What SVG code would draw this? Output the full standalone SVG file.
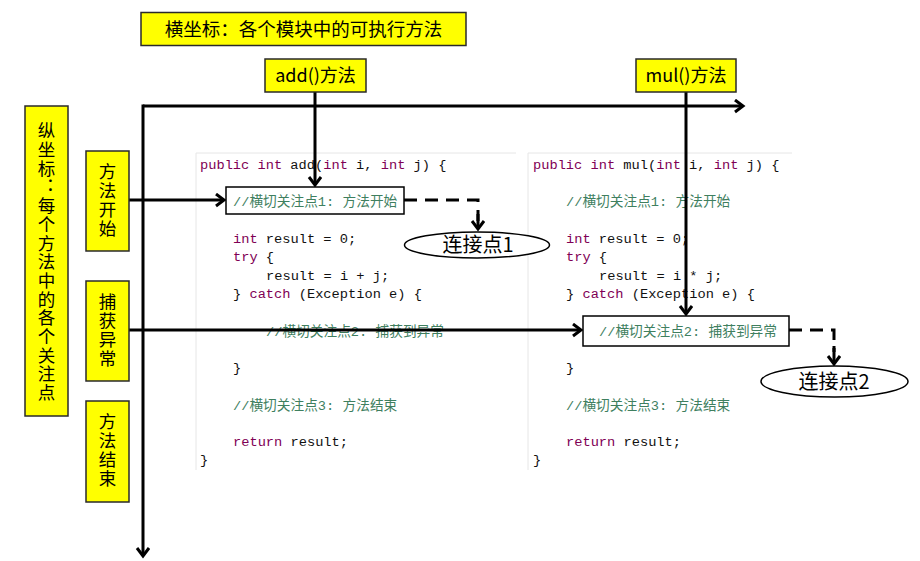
<svg xmlns="http://www.w3.org/2000/svg" width="920" height="561" viewBox="0 0 920 561">
<style>
.lbl{font-family:"Noto Sans CJK SC","Liberation Sans",sans-serif;fill:#000}
.vt{font-family:"Noto Sans CJK SC",sans-serif;fill:#000;writing-mode:vertical-rl;font-size:17.5px}
.yb{fill:#ffff00;stroke:#2a2a2a;stroke-width:1.5}
.code{font-family:"Liberation Mono","Noto Sans CJK SC",monospace;font-size:13.7px;fill:#111}
.kw{fill:#7f0055}
.cm{fill:#3f7f5f}
.ln{stroke:#000;stroke-width:3;fill:none}
.dash{stroke:#000;stroke-width:3;fill:none;stroke-dasharray:13 8}
.panel{stroke:#e6e6e6;stroke-width:1;fill:none}
</style>
<defs>
<marker id="ah" markerUnits="userSpaceOnUse" markerWidth="14" markerHeight="16" refX="10" refY="7" orient="auto">
<path d="M2,1 L10,7 L2,13" fill="none" stroke="#000" stroke-width="3"/>
</marker>
</defs>
<rect width="920" height="561" fill="#fff"/>

<g id="code-add">
<path class="panel" d="M196,470 V153 H516"/>
<text class="code" x="200" y="169"><tspan class="kw">public int</tspan> add(<tspan class="kw">int</tspan> i, <tspan class="kw">int</tspan> j) {</text>
<text class="code" x="233" y="243"><tspan class="kw">int</tspan> result = 0;</text>
<text class="code" x="233" y="261"><tspan class="kw">try</tspan> {</text>
<text class="code" x="266" y="280">result = i + j;</text>
<text class="code" x="233" y="298">} <tspan class="kw">catch</tspan> (Exception e) {</text>
<text class="code cm" x="266" y="336">//横切关注点2: 捕获到异常</text>
<text class="code" x="233" y="372">}</text>
<text class="code cm" x="233" y="410">//横切关注点3: 方法结束</text>
<text class="code" x="233" y="446"><tspan class="kw">return</tspan> result;</text>
<text class="code" x="200" y="464">}</text>
</g>

<g id="code-mul">
<path class="panel" d="M528,470 V153 H792"/>
<text class="code" x="533" y="169"><tspan class="kw">public int</tspan> mul(<tspan class="kw">int</tspan> i, <tspan class="kw">int</tspan> j) {</text>
<text class="code cm" x="566" y="206">//横切关注点1: 方法开始</text>
<text class="code" x="566" y="243"><tspan class="kw">int</tspan> result = 0;</text>
<text class="code" x="566" y="261"><tspan class="kw">try</tspan> {</text>
<text class="code" x="599" y="280">result = i * j;</text>
<text class="code" x="566" y="298">} <tspan class="kw">catch</tspan> (Exception e) {</text>
<text class="code" x="566" y="372">}</text>
<text class="code cm" x="566" y="410">//横切关注点3: 方法结束</text>
<text class="code" x="566" y="446"><tspan class="kw">return</tspan> result;</text>
<text class="code" x="533" y="464">}</text>
</g>

<g id="connectors">
<line class="ln" x1="143" y1="106" x2="743" y2="106" marker-end="url(#ah)"/>
<line class="ln" x1="143" y1="104.5" x2="143" y2="556" marker-end="url(#ah)"/>
<line class="ln" x1="129" y1="200" x2="224" y2="200" marker-end="url(#ah)"/>
<line class="ln" x1="129" y1="330" x2="581" y2="330" marker-end="url(#ah)"/>
<line class="ln" x1="315" y1="92" x2="315" y2="185" marker-end="url(#ah)"/>
<line class="ln" x1="686" y1="92" x2="686" y2="314" marker-end="url(#ah)"/>
<path class="dash" d="M404,200 H478 V221"/>
<line class="ln" x1="478" y1="214" x2="478" y2="229" marker-end="url(#ah)"/>
<path class="dash" d="M789,330 H834 V352"/>
<line class="ln" x1="834" y1="346" x2="834" y2="364" marker-end="url(#ah)"/>
</g>

<g id="title-x">
<rect class="yb" x="141" y="12.5" width="325" height="33"/>
<text class="lbl" x="303.5" y="35.5" font-size="18.5" text-anchor="middle">横坐标：各个模块中的可执行方法</text>
</g>

<g id="add-method">
<rect class="yb" x="265" y="59" width="101" height="33"/>
<text class="lbl" x="315.5" y="82" font-size="18" text-anchor="middle">add()方法</text>
</g>

<g id="mul-method">
<rect class="yb" x="636" y="59" width="100" height="33"/>
<text class="lbl" x="686" y="82" font-size="18" text-anchor="middle">mul()方法</text>
</g>

<g id="title-y">
<rect class="yb" x="25" y="106" width="43" height="310"/>
<text class="vt" x="46.5" y="122" letter-spacing="1.2">纵坐标：每个方法中的各个关注点</text>
</g>

<g id="method-start">
<rect class="yb" x="86" y="151" width="43" height="100"/>
<text class="vt" x="107.5" y="163" letter-spacing="1.3">方法开始</text>
</g>

<g id="catch-exception">
<rect class="yb" x="86" y="281" width="43" height="100"/>
<text class="vt" x="107.5" y="293" letter-spacing="1.3">捕获异常</text>
</g>

<g id="method-end">
<rect class="yb" x="86" y="401" width="43" height="101"/>
<text class="vt" x="107.5" y="413" letter-spacing="1.3">方法结束</text>
</g>

<g id="pointcut-1">
<rect x="226" y="187" width="178" height="27" fill="#fff" stroke="#000" stroke-width="1.5"/>
<text class="code cm" x="233" y="206">//横切关注点1: 方法开始</text>
</g>

<g id="pointcut-2">
<rect x="583" y="316" width="206" height="30" fill="#fff" stroke="#000" stroke-width="1.5"/>
<text class="code cm" x="599" y="336">//横切关注点2: 捕获到异常</text>
</g>

<g id="joinpoint-1">
<ellipse cx="477" cy="245" rx="72.5" ry="13" fill="#fff" stroke="#000" stroke-width="1.5"/>
<text class="lbl" x="478" y="252" font-size="20" text-anchor="middle">连接点1</text>
</g>

<g id="joinpoint-2">
<ellipse cx="834.5" cy="381.5" rx="73.5" ry="15.5" fill="#fff" stroke="#000" stroke-width="1.5"/>
<text class="lbl" x="834" y="389" font-size="20" text-anchor="middle">连接点2</text>
</g>
</svg>
